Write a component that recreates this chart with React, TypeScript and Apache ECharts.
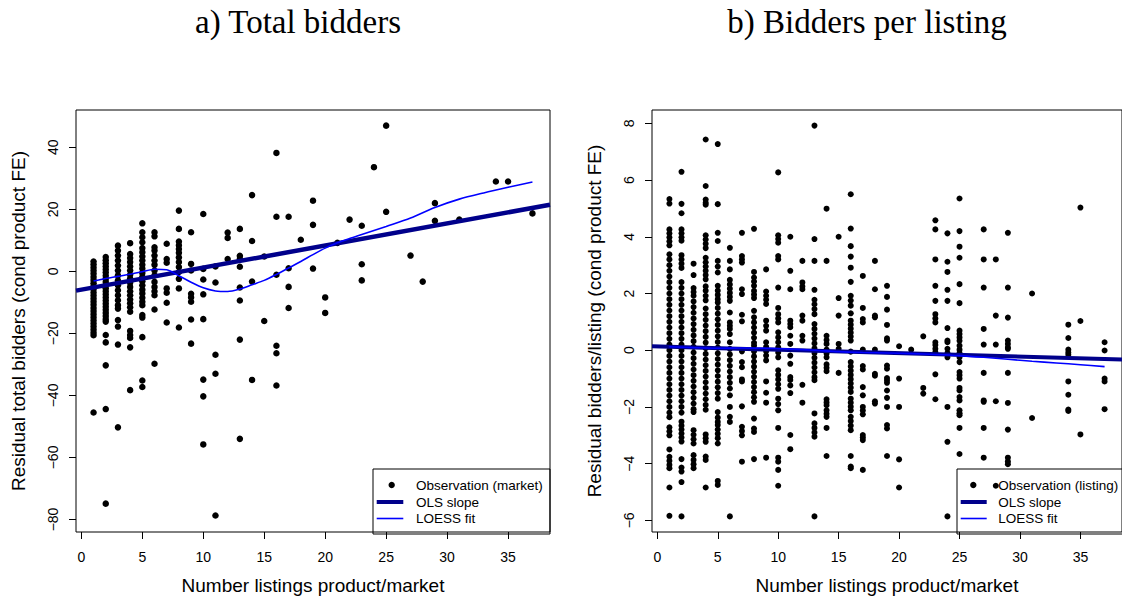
import React, { useEffect, useRef } from "react";
import * as echarts from "echarts";

// ---------- Panel a) : observations per market ----------
const marketX = [1, 2, 3, 4, 5, 6, 7, 8, 9, 10, 11, 12, 13, 14, 15, 16, 17, 18, 19, 20, 21, 22, 23, 24, 25, 27, 28, 29, 31, 34, 35, 37];
const marketY: number[][] = [
  [3.2, 2.2, 1.2, 0.2, -0.8, -1.8, -2.8, -3.8, -4.8, -5.8, -6.8, -7.8, -8.8, -9.8, -10.8, -11.8, -12.8, -13.8, -14.8, -15.8, -16.8, -17.8, -18.8, -19.8, -20.6, -45.5],
  [4.6, 3.6, 2.6, 1.6, 0.6, -0.4, -1.4, -2.4, -3.4, -4.4, -5.4, -6.4, -7.4, -8.4, -9.4, -10.4, -11.4, -12.4, -13.4, -14.4, -15.4, -16.2, -20.5, -22.9, -30.3, -44.4, -74.9],
  [8.3, 6.7, 5.1, 3.5, 1.9, 0.3, -1.3, -2.9, -4.5, -6.1, -7.7, -9.3, -10.9, -12.0, -15.7, -17.8, -23.6, -50.3],
  [9.1, 5.6, 4.3, 3.0, 1.6, 0.3, -1.1, -2.3, -3.7, -5.0, -6.4, -7.7, -9.1, -10.3, -11.6, -13.0, -19.2, -20.5, -21.5, -24.5, -38.3],
  [15.5, 12.6, 11.0, 9.4, 7.5, 6.2, 4.8, 3.5, 2.1, 0.9, -0.5, -1.8, -3.2, -4.5, -5.9, -7.1, -8.5, -9.8, -10.9, -14.1, -14.9, -21.2, -35.2, -37.3],
  [12.6, 11.3, 7.8, 6.7, 5.1, 3.5, 2.1, 0.3, -1.3, -3.4, -5.0, -6.4, -7.7, -12.3, -29.8],
  [8.9, 4.0, 2.8, -5.5, -6.9, -10.1, -16.5],
  [19.6, 13.7, 9.6, 8.4, 7.2, 6.0, 4.5, 3.0, 1.4, -0.2, -2.4, -5.5, -18.1],
  [12.6, 2.4, 0.3, -7.2, -8.4, -9.8, -15.5, -23.3],
  [18.5, 0.8, -2.6, -7.4, -15.4, -34.9, -40.3, -55.8],
  [1.6, -3.6, -26.9, -33.0, -78.7],
  [12.5, 10.8, 4.0],
  [13.7, 5.0, 4.0, 1.5, -5.2, -9.4, -22.0, -54.0],
  [24.6, 9.8, -3.3, -35.0],
  [4.8, -16.0],
  [38.2, 17.6, -1.1, -24.0, -26.4, -36.8],
  [17.6, 1.0, -5.0, -11.8],
  [10.2],
  [22.8, 15.0, 0.9],
  [-8.4, -13.4],
  [9.2],
  [16.7],
  [14.7, 2.3, -2.9],
  [33.6],
  [47.0, 19.2],
  [5.1],
  [-3.3],
  [22.0, 16.3],
  [16.7],
  [29.0],
  [29.0],
  [18.7],
];
const olsA = { intercept: -5.9, slope: 0.712 };
const loessAX = [1, 2, 3, 4, 5, 6, 7, 8, 9, 10, 11, 12, 13, 14, 15, 16, 17, 18, 19, 20, 21, 22, 23, 24, 25, 27, 29, 31, 33, 35, 37];
const loessAY = [-3.1, -2.3, -1.6, -0.9, -0.1, 0.7, 0.5, -1.4, -3.5, -5.3, -6.3, -6.5, -5.7, -4.3, -2.9, -1.0, 1.1, 3.2, 5.4, 7.5, 9.2, 10.6, 11.9, 13.2, 14.5, 17.2, 20.6, 23.3, 25.3, 27.1, 28.8];

// ---------- Panel b) : observations per listing ----------
const listingX = [1, 2, 3, 4, 5, 6, 7, 8, 9, 10, 11, 12, 13, 14, 15, 16, 17, 18, 19, 20, 21, 22, 23, 24, 25, 27, 28, 29, 31, 34, 35, 37];
const listingY: number[][] = [
  [5.33, 5.17, 4.26, 4.12, 3.98, 3.84, 3.7, 3.38, 3.2, 3.0, 2.8, 2.6, 2.4, 2.2, 2.0, 1.8, 1.6, 1.4, 1.2, 1.0, 0.8, 0.6, 0.4, 0.2, 0.0, -0.2, -0.4, -0.6, -0.8, -1.0, -1.2, -1.4, -1.6, -1.8, -2.0, -2.2, -2.36, -2.72, -2.86, -3.0, -3.5, -3.76, -3.9, -4.04, -4.16, -4.84, -5.84],
  [6.29, 5.16, 4.83, 4.26, 4.12, 3.98, 3.86, 3.35, 3.2, 3.05, 2.9, 2.4, 2.2, 2.0, 1.8, 1.6, 1.4, 1.2, 1.0, 0.8, 0.6, 0.4, 0.2, 0.0, -0.2, -0.4, -0.6, -0.8, -1.0, -1.2, -1.4, -1.6, -1.8, -2.0, -2.2, -2.52, -2.66, -2.8, -2.94, -3.08, -3.22, -3.84, -4.14, -4.28, -4.65, -5.86],
  [3.05, 2.65, 2.19, 2.05, 1.92, 1.72, 1.52, 1.32, 1.12, 0.92, 0.72, 0.52, 0.32, 0.12, -0.08, -0.28, -0.48, -0.68, -0.88, -1.08, -1.28, -1.48, -1.68, -1.88, -2.08, -2.18, -2.82, -2.98, -3.14, -3.29, -3.7, -3.87, -4.02, -4.16],
  [7.43, 5.79, 5.31, 5.2, 5.13, 4.05, 3.9, 3.75, 3.6, 3.26, 3.1, 2.95, 2.8, 2.65, 2.5, 2.25, 2.1, 1.92, 1.76, 1.47, 1.27, 1.07, 0.87, 0.67, 0.47, 0.27, 0.07, -0.13, -0.33, -0.53, -0.73, -0.93, -1.13, -1.33, -1.53, -1.73, -1.93, -2.1, -2.97, -3.1, -3.23, -3.75, -3.87, -4.84],
  [7.27, 5.15, 4.14, 3.85, 3.15, 2.95, 2.74, 2.27, 2.1, 1.95, 1.8, 1.68, 1.49, 1.29, 1.09, 0.89, 0.69, 0.49, 0.29, 0.09, -0.11, -0.31, -0.51, -0.71, -0.91, -1.11, -1.31, -1.51, -1.71, -2.18, -2.38, -2.53, -2.64, -2.8, -2.95, -3.1, -3.29, -4.61, -4.75],
  [3.61, 3.15, 2.85, 2.48, 2.32, 2.17, 2.02, 1.88, 1.74, 1.33, 0.98, 0.86, 0.75, 0.57, 0.28, 0.05, -0.15, -0.35, -0.55, -0.75, -0.95, -1.15, -1.35, -1.59, -2.0, -2.35, -2.53, -5.86],
  [4.14, 3.32, 3.2, 3.09, 2.15, 1.98, 1.25, 1.02, -0.04, -0.42, -0.6, -1.03, -1.1, -1.98, -2.7, -2.85, -3.0, -3.93],
  [4.28, 2.76, 2.56, 2.42, 2.27, 2.09, 1.96, 1.84, 1.39, 1.16, 0.98, 0.8, 0.62, 0.44, 0.26, 0.16, -0.04, -0.22, -0.4, -0.58, -0.76, -0.94, -1.12, -1.3, -1.48, -1.66, -1.82, -2.41, -2.76, -2.88, -3.84],
  [2.85, 2.07, 1.92, 1.78, 1.63, 1.04, 0.86, 0.69, 0.28, 0.12, -0.04, -0.19, -0.36, -1.1, -1.5, -1.85, -3.79],
  [6.27, 4.05, 3.92, 3.79, 3.32, 3.2, 2.21, 1.49, 1.27, 1.12, 0.98, 0.63, 0.45, 0.28, 0.1, -0.08, -0.25, -0.71, -0.87, -1.03, -1.2, -1.36, -1.71, -1.9, -2.12, -2.74, -3.79, -3.93, -4.22, -4.78],
  [4.0, 2.8, 2.15, 1.04, 0.92, 0.81, 0.51, 0.22, -0.19, -0.48, -0.95, -1.05, -1.24, -1.51, -2.99, -3.49],
  [3.15, 2.39, 2.25, 2.15, 1.22, 1.04, 0.51, 0.34, -1.22, -1.85],
  [7.92, 3.92, 3.15, 2.13, 1.78, 1.62, 1.45, 1.27, 0.92, 0.75, 0.58, 0.41, 0.24, 0.07, -0.1, -0.27, -0.44, -0.61, -0.78, -0.95, -1.06, -2.23, -2.58, -2.74, -2.9, -3.05, -5.86],
  [4.99, 3.15, 0.51, 0.36, 0.22, 0.02, -0.12, -0.25, -0.5, -0.62, -0.74, -1.73, -1.84, -1.94, -2.12, -2.24, -2.35, -2.74, -3.73],
  [4.0, 1.84, 1.22, 0.22, 0.05, -0.8],
  [5.5, 4.29, 3.67, 3.3, 2.91, 2.41, 1.92, 1.75, 1.57, 1.3, 1.04, 0.9, 0.76, 0.62, 0.48, 0.34, -0.05, -0.42, -0.57, -0.72, -0.87, -1.02, -1.17, -1.32, -1.47, -1.71, -1.85, -1.99, -2.12, -2.35, -2.5, -2.66, -2.82, -3.73, -4.1, -4.16],
  [2.62, 1.49, 1.1, 0.98, 0.02, -0.56, -0.68, -1.3, -1.59, -2.0, -2.13, -2.26, -2.99, -3.08, -3.17, -4.22],
  [3.15, 2.15, 1.22, 1.16, 0.02, -0.83, -0.9, -1.8, -1.88],
  [2.27, 1.88, 1.43, 0.89, 0.42, 0.34, -0.54, -0.65, -0.98, -1.06, -1.15, -1.42, -1.68, -2.0, -2.64, -2.76, -3.73],
  [0.14, -1.0, -2.0, -3.85, -4.84],
  [0.02],
  [0.49, -1.33, -1.53],
  [4.58, 4.26, 3.2, 2.27, 1.74, 1.27, 1.12, 0.98, 0.28, 0.18, 0.05, -0.07, -0.85, -1.73],
  [4.12, 3.12, 2.76, 2.13, 1.74, 0.78, 0.34, 0.28, 0.05, -0.1, -0.25, -2.0, -3.23, -5.86],
  [5.35, 4.2, 3.65, 3.26, 2.33, 1.66, 0.69, 0.57, 0.45, 0.33, 0.16, 0.02, -0.1, -0.25, -0.42, -0.77, -0.88, -1.0, -1.33, -1.42, -1.65, -1.77, -2.12, -2.22, -2.29, -2.74, -3.66],
  [4.26, 3.2, 2.21, 0.75, 0.2, -0.8, -1.77, -1.82, -2.74, -3.79],
  [3.2, 1.22, 0.2, -1.8, -4.78],
  [4.14, 2.21, 1.15, 0.34, 0.22, 0.1, 0.05, -0.8, -1.86, -2.8, -3.79, -3.92, -4.02],
  [2.0, -2.39],
  [0.9, 0.43, 0.02, -0.08, -0.16, -1.1, -1.57, -2.09, -2.14],
  [5.03, 1.03, -2.97],
  [0.28, -0.01, -1.0, -1.1, -2.08],
];
const olsB = { intercept: 0.135, slope: -0.012 };
const loessBX = [1, 3, 5, 7, 9, 11, 13, 15, 17, 19, 21, 23, 25, 27, 29, 31, 33, 35, 37];
const loessBY = [0.12, 0.09, 0.07, 0.08, 0.07, 0.04, 0.0, -0.05, -0.08, -0.1, -0.12, -0.15, -0.19, -0.25, -0.32, -0.39, -0.45, -0.51, -0.58];

// ---------- axes ----------
const xTicks = [0, 5, 10, 15, 20, 25, 30, 35];
const yTicksA = [-80, -60, -40, -20, 0, 20, 40];
const yTicksB = [-6, -4, -2, 0, 2, 4, 6, 8];
const xRange = [-0.44, 38.44];
const yRangeA = [-84.04, 52.04];
const yRangeB = [-6.41, 8.47];

const titleA = "a) Total bidders";
const titleB = "b) Bidders per listing";
const xTitle = "Number listings product/market";
const yTitleA = "Residual total bidders (cond product FE)";
const yTitleB = "Residual bidders/listing (cond product FE)";
const legendA = ["Observation (market)", "OLS slope", "LOESS fit"];
const legendB = ["Observation (listing)", "OLS slope", "LOESS fit"];

const SANS = "'Liberation Sans', Arial, Helvetica, sans-serif";
const SERIF = "'Liberation Serif', 'Times New Roman', serif";
const OLS_COLOR = "#00008B";
const LOESS_COLOR = "#0000FF";

const minusFmt = (v: number) => String(v).replace("-", "\u2212");

function toPoints(xs: number[], ys: number[][]) {
  const out: number[][] = [];
  xs.forEach((x, i) => ys[i].forEach((y) => out.push([x, y])));
  return out;
}
function zip(xs: number[], ys: number[]) {
  return xs.map((x, i) => [x, ys[i]]);
}
function olsLine(c: { intercept: number; slope: number }) {
  return xRange.map((x) => [x, c.intercept + c.slope * x]);
}

function xAxisCfg(gridIndex: number) {
  return {
    type: "value",
    gridIndex,
    min: xRange[0],
    max: xRange[1],
    name: xTitle,
    nameLocation: "middle",
    nameGap: 44,
    nameTextStyle: { fontFamily: SANS, fontSize: 19, color: "#000" },
    axisLine: { show: false, onZero: false },
    axisTick: { show: true, length: 7, lineStyle: { color: "#000", width: 1 }, customValues: xTicks },
    axisLabel: { show: true, customValues: xTicks, margin: 18, fontFamily: SANS, fontSize: 14, color: "#000" },
    splitLine: { show: false },
  };
}
function yAxisCfg(gridIndex: number, range: number[], ticks: number[], name: string) {
  return {
    type: "value",
    gridIndex,
    min: range[0],
    max: range[1],
    name,
    nameLocation: "middle",
    nameGap: 48,
    nameTextStyle: { fontFamily: SANS, fontSize: 19, color: "#000" },
    axisLine: { show: false, onZero: false },
    axisTick: { show: true, length: 7, lineStyle: { color: "#000", width: 1 }, customValues: ticks },
    axisLabel: {
      show: true,
      customValues: ticks,
      rotate: 90,
      margin: 16,
      fontFamily: SANS,
      fontSize: 14,
      color: "#000",
      formatter: minusFmt,
    },
    splitLine: { show: false },
  };
}

function legendGraphic(box: { x: number; y: number; w: number; h: number }, labels: string[], dotX: number, lineX1: number, lineX2: number, textX: number) {
  const rowY = [485, 502, 518.5];
  return [
    { type: "rect", z: 100, shape: { x: box.x, y: box.y, width: box.w, height: box.h }, style: { fill: "none", stroke: "#000", lineWidth: 1 } },
    { type: "circle", z: 100, shape: { cx: dotX, cy: rowY[0], r: 3.2 }, style: { fill: "#000" } },
    { type: "line", z: 100, shape: { x1: lineX1, y1: rowY[1], x2: lineX2, y2: rowY[1] }, style: { stroke: OLS_COLOR, lineWidth: 4 } },
    { type: "line", z: 100, shape: { x1: lineX1, y1: rowY[2], x2: lineX2, y2: rowY[2] }, style: { stroke: LOESS_COLOR, lineWidth: 1.6 } },
    ...labels.map((t, i) => ({
      type: "text",
      z: 100,
      x: textX,
      y: rowY[i],
      style: { text: t, fill: "#000", fontFamily: SANS, fontSize: 13.5, align: "left", verticalAlign: "middle", textAlign: "left", textVerticalAlign: "middle" },
    })),
  ];
}

export default function App() {
  const ref = useRef<HTMLDivElement>(null);
  useEffect(() => {
    document.body.style.margin = "0";
    const chart = echarts.init(ref.current!, null, { renderer: "svg" });
    const option: any = {
      animation: false,
      backgroundColor: "#fff",
      grid: [
        { left: 76, top: 110, width: 474, height: 424, show: true, borderColor: "#000", borderWidth: 1, backgroundColor: "transparent" },
        { left: 652, top: 110, width: 474.5, height: 424, show: true, borderColor: "#000", borderWidth: 1, backgroundColor: "transparent" },
      ],
      xAxis: [xAxisCfg(0), xAxisCfg(1)],
      yAxis: [yAxisCfg(0, yRangeA, yTicksA, yTitleA), yAxisCfg(1, yRangeB, yTicksB, yTitleB)],
      series: [
        { type: "scatter", xAxisIndex: 0, yAxisIndex: 0, data: toPoints(marketX, marketY), symbol: "circle", symbolSize: 6.5, itemStyle: { color: "#000", opacity: 1 }, silent: true },
        { type: "line", xAxisIndex: 0, yAxisIndex: 0, data: olsLine(olsA), showSymbol: false, symbol: "none", lineStyle: { color: OLS_COLOR, width: 4.5 }, silent: true },
        { type: "line", xAxisIndex: 0, yAxisIndex: 0, data: zip(loessAX, loessAY), showSymbol: false, symbol: "none", smooth: 0.3, lineStyle: { color: LOESS_COLOR, width: 1.6 }, silent: true },
        { type: "scatter", xAxisIndex: 1, yAxisIndex: 1, data: toPoints(listingX, listingY), symbol: "circle", symbolSize: 6, itemStyle: { color: "#000", opacity: 1 }, silent: true },
        { type: "line", xAxisIndex: 1, yAxisIndex: 1, data: olsLine(olsB), showSymbol: false, symbol: "none", lineStyle: { color: OLS_COLOR, width: 4 }, silent: true },
        { type: "line", xAxisIndex: 1, yAxisIndex: 1, data: zip(loessBX, loessBY), showSymbol: false, symbol: "none", smooth: 0.3, lineStyle: { color: LOESS_COLOR, width: 1.6 }, silent: true },
      ],
      graphic: [
        { type: "text", x: 298, y: 22, style: { text: titleA, fill: "#000", fontFamily: SERIF, fontSize: 33, align: "center", verticalAlign: "middle", textAlign: "center", textVerticalAlign: "middle" } },
        { type: "text", x: 867, y: 22, style: { text: titleB, fill: "#000", fontFamily: SERIF, fontSize: 33, align: "center", verticalAlign: "middle", textAlign: "center", textVerticalAlign: "middle" } },
        ...legendGraphic({ x: 373, y: 469, w: 177, h: 65 }, legendA, 391.7, 376.7, 403.3, 416),
        ...legendGraphic({ x: 957, y: 469, w: 172, h: 65 }, legendB, 973.3, 960.7, 986.7, 998.3),
      ],
    };
    chart.setOption(option);
    return () => chart.dispose();
  }, []);
  return <div ref={ref} style={{ width: 1122, height: 600 }} />;
}
